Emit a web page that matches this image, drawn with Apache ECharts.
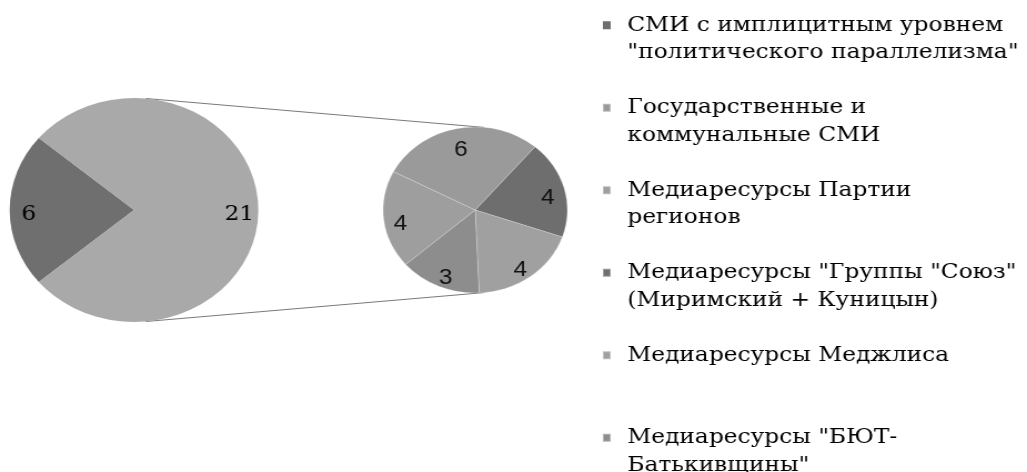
<!DOCTYPE html>
<html><head><meta charset="utf-8">
<script src="https://cdn.jsdelivr.net/npm/echarts@6/dist/echarts.min.js"></script>
<style>
html,body{margin:0;padding:0;background:#fff;overflow:hidden;width:1027px;height:472px}
#c{width:925px;height:472px;transform:scaleX(1.1103);transform-origin:0 0}
</style></head><body><div id="c"></div>
<script>
// ---- data ----
const legendNames = [
  'СМИ с имплицитным уровнем "политического параллелизма"',
  'Государственные и коммунальные СМИ',
  'Медиаресурсы Партии регионов',
  'Медиаресурсы "Группы "Союз" (Миримский + Куницын)',
  'Медиаресурсы Меджлиса',
  'Медиаресурсы "БЮТ-Батькивщины"'
];
const legendLines = [
  ['СМИ с имплицитным уровнем', '"политического параллелизма"'],
  ['Государственные и', 'коммунальные СМИ'],
  ['Медиаресурсы Партии', 'регионов'],
  ['Медиаресурсы "Группы "Союз"', '(Миримский + Куницын)'],
  ['Медиаресурсы Меджлиса', ''],
  ['Медиаресурсы "БЮТ-', 'Батькивщины"']
];
const mainNames  = [legendNames[0], 'Другие'];
const mainValues = [6, 21];
const mainColors = ['#6f6f6f', '#a9a9a9'];
const subNames   = [legendNames[3], legendNames[4], legendNames[5], legendNames[2], legendNames[1]];
const subValues  = [4, 4, 3, 4, 6];
const subColors  = ['#6e6e6e', '#a0a0a0', '#8d8d8d', '#9e9e9e', '#9a9a9a'];

// ---- layout ----
const cy = 210;
const cxL = 120.7, rL = 112;
const cxR = 428, rR = 83;

function build(names, values, colors) {
  return names.map((n, i) => ({ name: n, value: values[i], itemStyle: { color: colors[i] } }));
}
function buildBlank(names, values) {
  return names.map((n, i) => ({ name: n, value: values[i] }));
}

// external tangent lines between the two pies
const d = cxR - cxL;
const s = (rL - rR) / d, c = Math.sqrt(1 - s * s);
const tanLines = [-1, 1].map(sign => ({
  type: 'line', silent: true,
  shape: { x1: cxL + rL * s, y1: cy + sign * rL * c, x2: cxR + rR * s, y2: cy + sign * rR * c },
  style: { stroke: '#7a7a7a', lineWidth: 1 }
}));

const chart = echarts.init(document.getElementById('c'));
chart.setOption({
  animation: false,
  backgroundColor: '#fff',
  graphic: tanLines,
  legend: {
    orient: 'vertical', left: 537, top: -21, height: 540,
    itemWidth: 7, itemHeight: 8, itemGap: 0, icon: 'rect',
    selectedMode: false,
    data: legendNames,
    formatter: name => { const l = legendLines[legendNames.indexOf(name)]; return '\n' + l[0] + '\n' + l[1]; },
    textStyle: { fontFamily: 'DejaVu Serif', fontSize: 21, color: '#000', lineHeight: 27.5, padding: [0, 0, 0, 10] }
  },
  series: [
    { type: 'pie', center: [cxL, cy], radius: [0, rL], startAngle: 220, clockwise: true,
      label: { show: false }, labelLine: { show: false }, silent: true,
      data: build(mainNames, mainValues, mainColors) },
    { type: 'pie', center: [cxR, cy], radius: [0, rR], startAngle: 49.6, clockwise: true,
      label: { show: false }, labelLine: { show: false }, silent: true,
      itemStyle: { borderColor: 'rgba(255,255,255,0.35)', borderWidth: 0.6 },
      data: build(subNames, subValues, subColors) },
    { type: 'pie', center: [cxL, cy], radius: [rL * 0.64, rL], startAngle: 220, clockwise: true, silent: true,
      itemStyle: { color: 'rgba(0,0,0,0)' },
      label: { show: true, position: 'inside', formatter: '{c}', fontFamily: 'DejaVu Serif', fontSize: 21, color: '#000', offset: [0, 5] },
      labelLine: { show: false },
      data: buildBlank(mainNames, mainValues) },
    { type: 'pie', center: [cxR, cy], radius: [rR * 0.56, rR], startAngle: 49.6, clockwise: true, silent: true,
      itemStyle: { color: 'rgba(0,0,0,0)' },
      label: { show: true, position: 'inside', formatter: '{c}', fontFamily: 'Liberation Sans', fontSize: 22, color: '#111', offset: [0, 6] },
      labelLine: { show: false },
      data: buildBlank(subNames, subValues) }
  ]
});
</script></body></html>
